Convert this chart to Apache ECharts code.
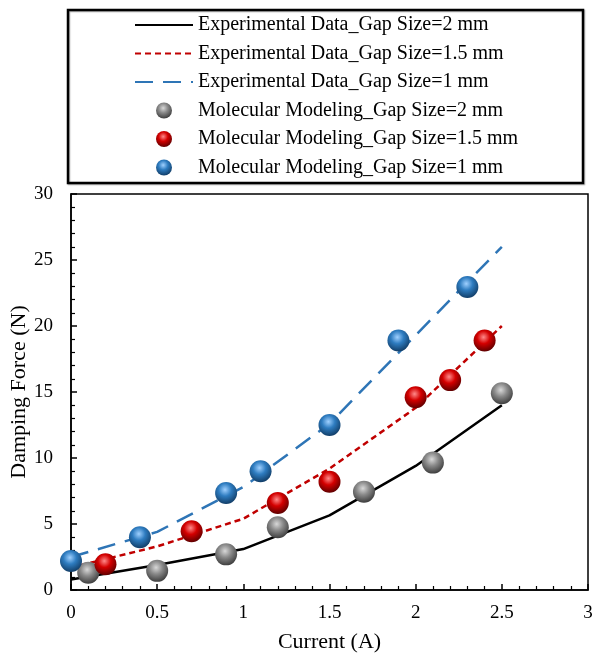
<!DOCTYPE html>
<html>
<head>
<meta charset="utf-8">
<script src="https://cdn.jsdelivr.net/npm/echarts@6/dist/echarts.min.js"></script>
<style>
html,body{margin:0;padding:0;background:#fff;}
#chart{width:592px;height:655px;}
</style>
</head>
<body>
<div id="chart"></div>
<script>
// ---- data ----
var seriesNames = [
  'Experimental Data_Gap Size=2 mm',
  'Experimental Data_Gap Size=1.5 mm',
  'Experimental Data_Gap Size=1 mm',
  'Molecular Modeling_Gap Size=2 mm',
  'Molecular Modeling_Gap Size=1.5 mm',
  'Molecular Modeling_Gap Size=1 mm'
];
var expCurrent = [0, 0.5, 1, 1.5, 2, 2.5];
var exp2mm   = [0.8, 1.9, 3.1, 5.65, 9.4, 14.0];
var exp15mm  = [1.7, 3.3, 5.4, 9.2, 13.8, 20.0];
var exp1mm   = [2.5, 4.4, 7.8, 12.6, 19.3, 26.0];

var mol2mmX  = [0.1, 0.5, 0.9, 1.2, 1.7, 2.1, 2.5];
var mol2mmY  = [1.3, 1.45, 2.7, 4.75, 7.45, 9.65, 14.9];
var mol15mmX = [0.2, 0.7, 1.2, 1.5, 2.0, 2.2, 2.4];
var mol15mmY = [1.95, 4.45, 6.6, 8.2, 14.6, 15.9, 18.9];
var mol1mmX  = [0, 0.4, 0.9, 1.1, 1.5, 1.9, 2.3];
var mol1mmY  = [2.2, 4.0, 7.35, 9.0, 12.5, 18.9, 22.95];

var xTicks = [0, 0.5, 1, 1.5, 2, 2.5, 3];
var yTicks = [0, 5, 10, 15, 20, 25, 30];

// ---- helpers ----
function pairs(xs, ys) { return xs.map(function (x, i) { return [x, ys[i]]; }); }
function sphere(light, base, dark) {
  return new echarts.graphic.RadialGradient(0.45, 0.35, 0.65, [
    { offset: 0, color: light },
    { offset: 0.45, color: base },
    { offset: 1, color: dark }
  ]);
}
var FONT = "'Liberation Serif', 'Times New Roman', serif";

var chart = echarts.init(document.getElementById('chart'), null, { renderer: 'canvas' });

var option = {
  backgroundColor: '#fff',
  animation: false,
  textStyle: { fontFamily: FONT, color: '#000' },
  graphic: [{
    type: 'rect',
    shape: { x: 68, y: 10, width: 515, height: 173 },
    style: { fill: 'none', stroke: '#000', lineWidth: 2.5, shadowColor: 'rgba(0,0,0,0.3)', shadowOffsetX: 1, shadowOffsetY: 1, shadowBlur: 1 },
    z: 100
  }],
  legend: {
    orient: 'vertical',
    left: 129,
    top: 9,
    itemWidth: 58,
    itemHeight: 16,
    itemGap: 6.5,
    textStyle: { fontFamily: FONT, fontSize: 20, color: '#000', lineHeight: 22 },
    data: seriesNames.map(function (n, i) {
      return i < 3 ? { name: n, itemStyle: { opacity: 0 } } : { name: n, icon: 'circle' };
    })
  },
  grid: {
    left: 71, right: 4, top: 194, bottom: 65,
    show: true, borderColor: '#000', borderWidth: 1.5,
    containLabel: false, outerBoundsMode: 'none'
  },
  xAxis: {
    type: 'value', min: 0, max: 3, interval: 0.5,
    name: 'Current (A)', nameLocation: 'middle', nameGap: 41, nameMoveOverlap: false,
    nameTextStyle: { fontFamily: FONT, fontSize: 22, color: '#000' },
    axisLine: { lineStyle: { color: '#000', width: 1.5 } },
    axisTick: { inside: true, length: 6, lineStyle: { color: '#000', width: 1.5 } },
    minorTick: { show: true, splitNumber: 5, length: 4, lineStyle: { color: '#000', width: 1.2 } },
    splitLine: { show: false },
    axisLabel: {
      fontFamily: FONT, fontSize: 19, color: '#000', margin: 14,
      formatter: function (v) { var i = xTicks.indexOf(v); return i >= 0 ? String(xTicks[i]) : ''; }
    }
  },
  yAxis: {
    type: 'value', min: 0, max: 30, interval: 5,
    name: 'Damping Force (N)', nameLocation: 'middle', nameGap: 41, nameRotate: 90, nameMoveOverlap: false,
    nameTextStyle: { fontFamily: FONT, fontSize: 22, color: '#000' },
    axisLine: { lineStyle: { color: '#000', width: 1.5 } },
    axisTick: { inside: true, length: 6, lineStyle: { color: '#000', width: 1.5 } },
    minorTick: { show: true, splitNumber: 5, length: 4, lineStyle: { color: '#000', width: 1.2 } },
    splitLine: { show: false },
    axisLabel: {
      fontFamily: FONT, fontSize: 19, color: '#000', margin: 18,
      formatter: function (v) { var i = yTicks.indexOf(v); return i >= 0 ? String(yTicks[i]) : ''; }
    }
  },
  series: [
    {
      name: seriesNames[0], type: 'line', data: pairs(expCurrent, exp2mm),
      symbol: 'none', lineStyle: { color: '#000', width: 2.5, type: 'solid' },
      itemStyle: { color: '#000' }, z: 2
    },
    {
      name: seriesNames[1], type: 'line', data: pairs(expCurrent, exp15mm),
      symbol: 'none', lineStyle: { color: '#c00000', width: 2.5, type: [6, 4] },
      itemStyle: { color: '#c00000' }, z: 2
    },
    {
      name: seriesNames[2], type: 'line', data: pairs(expCurrent, exp1mm),
      symbol: 'none', lineStyle: { color: '#2e75b6', width: 2.5, type: [18, 10] },
      itemStyle: { color: '#2e75b6' }, z: 2
    },
    {
      name: seriesNames[3], type: 'scatter', data: pairs(mol2mmX, mol2mmY),
      symbolSize: 22, itemStyle: { color: sphere('#d8d8d8', '#8a8a8a', '#3e3e3e'), opacity: 1 }, z: 3
    },
    {
      name: seriesNames[4], type: 'scatter', data: pairs(mol15mmX, mol15mmY),
      symbolSize: 22, itemStyle: { color: sphere('#ff8a8a', '#d40000', '#600000'), opacity: 1 }, z: 3
    },
    {
      name: seriesNames[5], type: 'scatter', data: pairs(mol1mmX, mol1mmY),
      symbolSize: 22, itemStyle: { color: sphere('#9fd0ff', '#2e7cc0', '#123e68'), opacity: 1 }, z: 3
    }
  ]
};
chart.setOption(option);
</script>
</body>
</html>
